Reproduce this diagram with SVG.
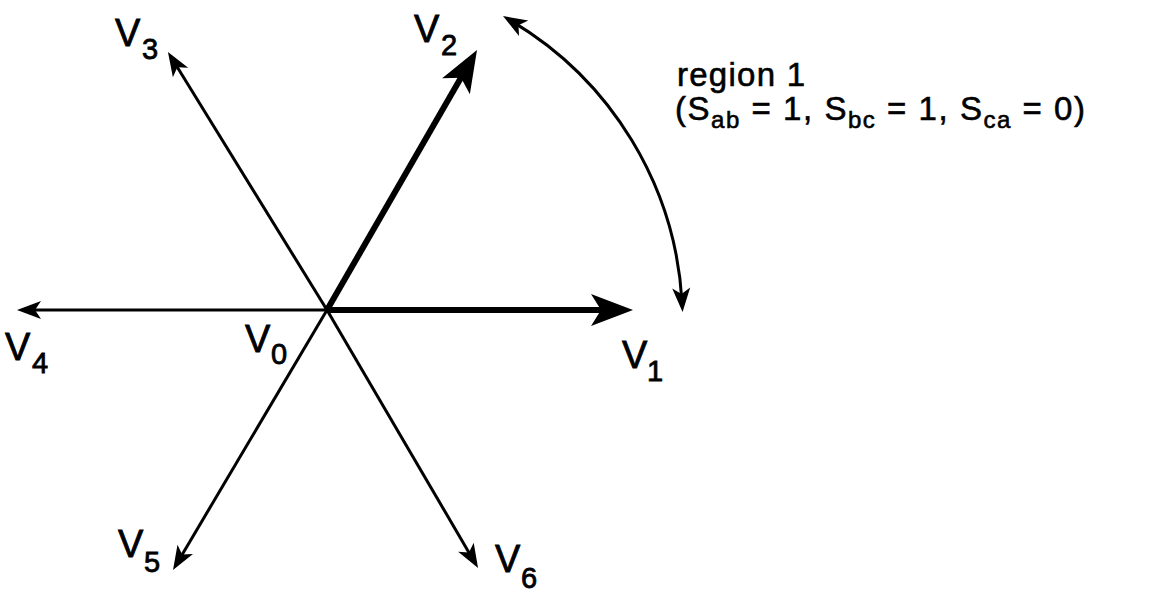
<svg xmlns="http://www.w3.org/2000/svg" width="1165" height="592" viewBox="0 0 1165 592">
<style>
.thin{stroke:#000;stroke-width:3;fill:none;marker-end:url(#hs)}
.thick{stroke:#000;stroke-width:6;fill:none;marker-end:url(#hl)}
.arc{stroke:#000;stroke-width:3;fill:none;marker-start:url(#hs);marker-end:url(#hs)}
.lbl{font-family:"Liberation Sans",Arial,sans-serif;font-size:38px;fill:#000;stroke:#000;stroke-width:0.8}
.sub{font-size:29px}
.rt{font-family:"Liberation Sans",Arial,sans-serif;font-size:33px;fill:#000;stroke:#000;stroke-width:0.6}
.rs{font-size:24px}
</style>
<defs>
<marker id="hs" markerUnits="userSpaceOnUse" viewBox="-26 -11 28 22" markerWidth="28" markerHeight="22" refX="-10" refY="0" orient="auto-start-reverse" overflow="visible">
<path d="M0,0 L-24,-9 L-18,0 L-24,9 Z" fill="#000"/>
</marker>
<marker id="hl" markerUnits="userSpaceOnUse" viewBox="-44 -18 46 36" markerWidth="46" markerHeight="36" refX="-20" refY="0" orient="auto" overflow="visible">
<path d="M0,0 L-42,-16 L-32,0 L-42,16 Z" fill="#000"/>
</marker>
</defs>
<g id="connectors">
<path class="thin" d="M327,310 L27,310"/>
<path class="thin" d="M327,310 L173.2,60.5"/>
<path class="thin" d="M327,310 L178.1,561.4"/>
<path class="thin" d="M327,310 L473,559.4"/>
<path class="thick" d="M327,310 L613,310"/>
<path class="thick" d="M327,310 L467,67.3"/>
<path class="arc" d="M511.6,21.1 A350,350 0 0 1 682,302"/>
</g>
<g id="V0"><text class="lbl" x="245" y="352">V<tspan class="sub" x="271" y="364">0</tspan></text></g>
<g id="V1"><text class="lbl" x="622" y="368">V<tspan class="sub" x="647" y="381">1</tspan></text></g>
<g id="V2"><text class="lbl" x="414" y="42">V<tspan class="sub" x="441" y="55">2</tspan></text></g>
<g id="V3"><text class="lbl" x="115" y="46">V<tspan class="sub" x="142" y="59">3</tspan></text></g>
<g id="V4"><text class="lbl" x="5" y="360">V<tspan class="sub" x="32" y="373">4</tspan></text></g>
<g id="V5"><text class="lbl" x="118" y="557">V<tspan class="sub" x="144" y="572">5</tspan></text></g>
<g id="V6"><text class="lbl" x="495" y="572">V<tspan class="sub" x="521" y="588">6</tspan></text></g>
<g id="region1">
<text class="rt" x="677" y="86" textLength="128" lengthAdjust="spacing">region 1</text>
<text class="rt" x="675" y="120" textLength="410" lengthAdjust="spacing">(S<tspan class="rs" dy="8">ab</tspan><tspan dy="-8"> = 1, S</tspan><tspan class="rs" dy="8">bc</tspan><tspan dy="-8"> = 1, S</tspan><tspan class="rs" dy="8">ca</tspan><tspan dy="-8"> = 0)</tspan></text>
</g>
</svg>
